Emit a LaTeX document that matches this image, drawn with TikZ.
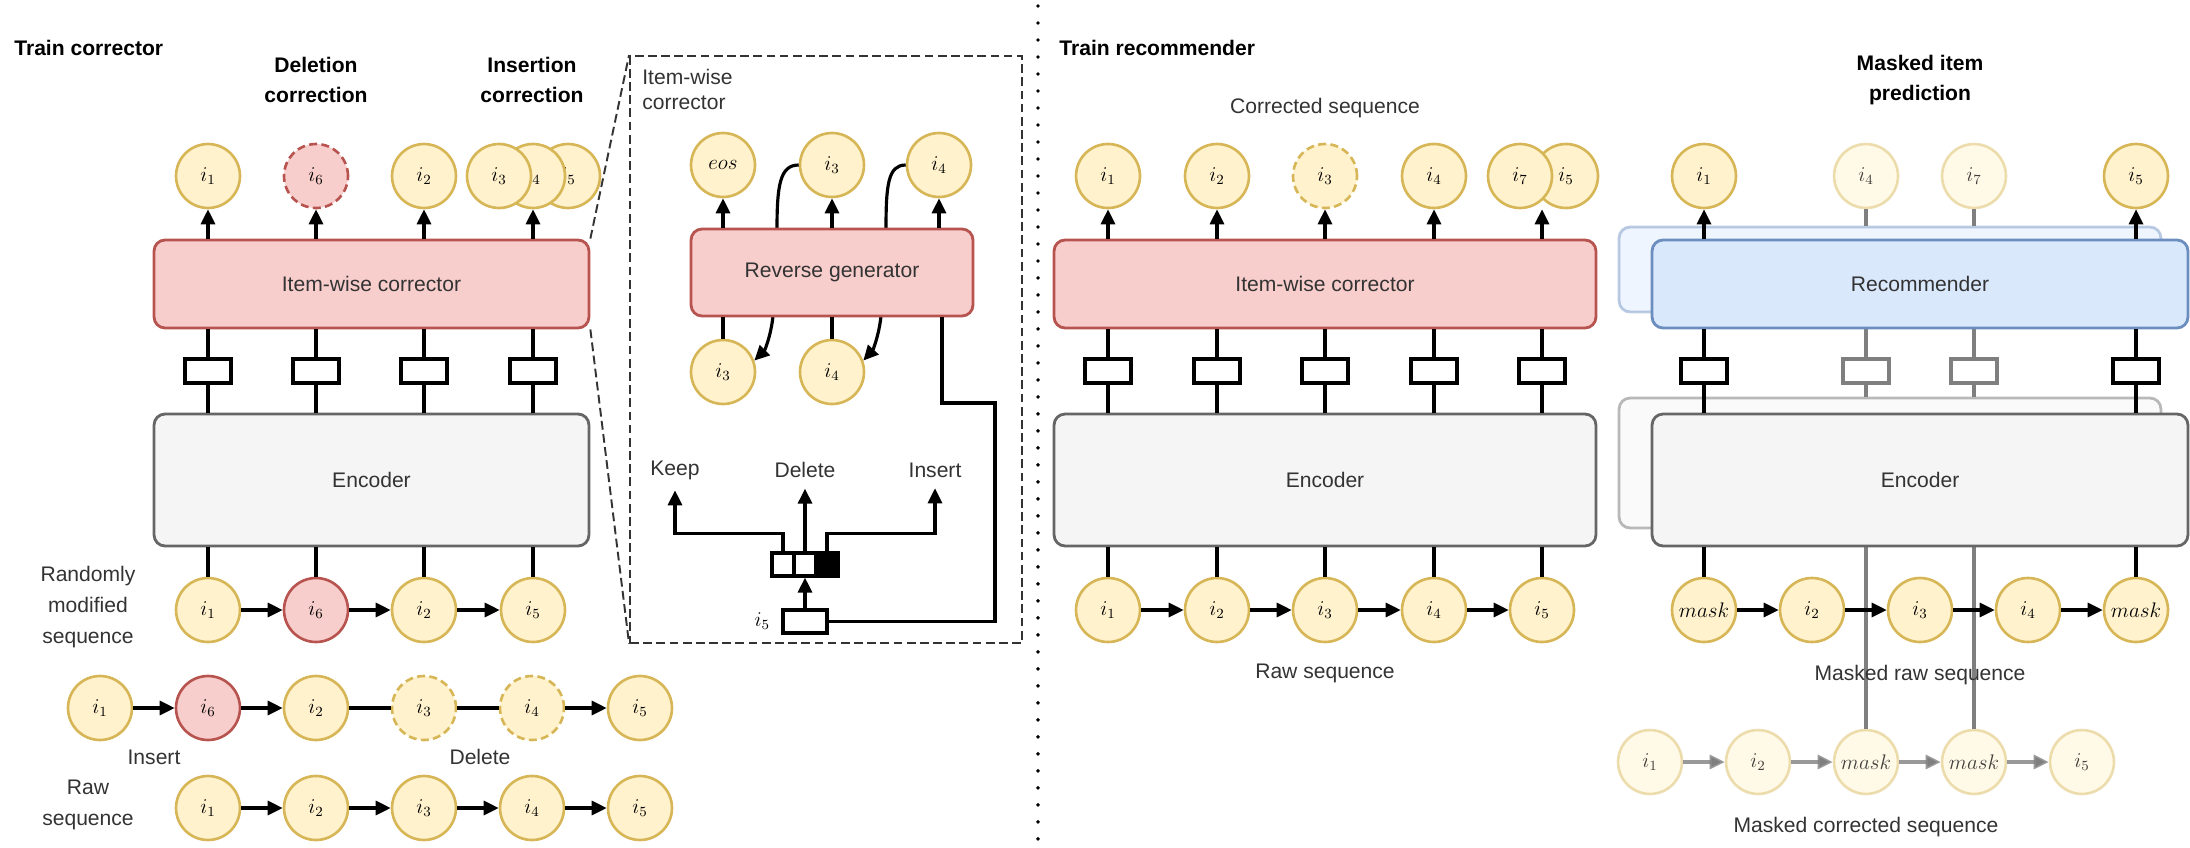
\documentclass[tikz,border=0pt]{standalone}
\usepackage{fontspec}
\setmainfont{Liberation Sans}
\usetikzlibrary{arrows.meta, positioning}

\definecolor{itemfill}{HTML}{FFF2CC}
\definecolor{itemline}{HTML}{D6B656}
\definecolor{redfill}{HTML}{F8CECC}
\definecolor{redline}{HTML}{B85450}
\definecolor{bluefill}{HTML}{DAE8FC}
\definecolor{blueline}{HTML}{6C8EBF}
\definecolor{encfill}{HTML}{F5F5F5}
\definecolor{encline}{HTML}{666666}
\definecolor{fadeline}{HTML}{7F7F7F}
\definecolor{txtgray}{HTML}{333333}

\begin{document}
\begin{tikzpicture}[
    x=0.02cm,
    y=-0.02cm,
    font=\fontsize{12}{17.5}\selectfont,
    item/.style={
        circle,
        draw=itemline,
        fill=itemfill,
        line width=1.5pt,
        minimum size=1.28cm,
        inner sep=0pt
    },
    added/.style={
        draw=redline,
        fill=redfill
    },
    ghost/.style={
        dash pattern=on 4.5pt off 2.5pt
    },
    faded/.style={
        draw opacity=0.45,
        fill opacity=0.45,
        text opacity=0.75
    },
    block/.style={
        rounded corners=0.22cm,
        line width=1.6pt,
        text=txtgray
    },
    corrbox/.style={
        block,
        draw=redline,
        fill=redfill
    },
    encbox/.style={
        block,
        draw=encline,
        fill=encfill
    },
    recbox/.style={
        block,
        draw=blueline,
        fill=bluefill
    },
    vec/.style={
        draw,
        fill=white,
        line width=1.8pt,
        minimum width=0.92cm,
        minimum height=0.48cm,
        inner sep=0pt
    },
    cell/.style={
        vec,
        minimum width=0.44cm,
        minimum height=0.46cm
    },
    link/.style={
        line width=1.8pt
    },
    arr/.style={
        link,
        -{Triangle[length=0.3cm, width=0.28cm]}
    },
    zoomline/.style={
        draw=txtgray,
        line width=1.1pt,
        dash pattern=on 5pt off 2.5pt
    },
    title/.style={
        font=\fontsize{12}{17.5}\selectfont\bfseries,
        align=center
    },
    caption/.style={
        text=txtgray,
        align=center
    }
]

\useasboundingbox (0,0) rectangle (2190,848);

% Titles
\node[title, anchor=west, inner sep=0pt] (tcorr) at (14,48) {Train corrector};
\node[title] (delcorr) at (316,80) {Deletion\\correction};
\node[title] (inscorr) at (532,80) {Insertion\\correction};

% Corrector and encoder
\node[corrbox, minimum width=8.7cm, minimum height=1.76cm] (corr) at (371.5,284) {Item-wise corrector};
\node[encbox, minimum width=8.7cm, minimum height=2.64cm] (enc) at (371.5,480) {Encoder};

% Corrected outputs
\node[item] (o1) at (208,176) {$i_1$};
\node[item, added, ghost] (o6) at (316,176) {$i_6$};
\node[item] (o2) at (424,176) {$i_2$};
\node[item] (o5) at (568,176) {$i_5$};
\node[item] (o4) at (533,176) {$i_4$};
\node[item] (o3) at (499,176) {$i_3$};

\foreach \c in {o1,o6,o2,o4}
    \draw[arr] (\c |- corr.north) -- (\c.south);

\foreach \x [count=\k] in {208,316,424,533} {
    \node[vec] (v\k) at (\x,371) {};
    \draw[link] (v\k.north) -- (v\k.north |- corr.south);
    \draw[link] (v\k.south) -- (v\k.south |- enc.north);
}

% Randomly modified sequence
\node[caption] (modlbl) at (88,607) {Randomly\\modified\\sequence};
\node[item] (m1) at (208,610) {$i_1$};
\node[item, added] (m6) at (316,610) {$i_6$};
\node[item] (m2) at (424,610) {$i_2$};
\node[item] (m5) at (533,610) {$i_5$};

\foreach \c in {m1,m6,m2,m5}
    \draw[link] (\c |- enc.south) -- (\c.north);
\draw[arr] (m1) -- (m6);
\draw[arr] (m6) -- (m2);
\draw[arr] (m2) -- (m5);

% Random edits
\node[item] (e1) at (100,708) {$i_1$};
\node[item, added] (e6) at (208,708) {$i_6$};
\node[item] (e2) at (316,708) {$i_2$};
\node[item, ghost] (e3) at (424,708) {$i_3$};
\node[item, ghost] (e4) at (532,708) {$i_4$};
\node[item] (e5) at (640,708) {$i_5$};
\draw[arr] (e1) -- (e6);
\draw[arr] (e6) -- (e2);
\draw[link] (e2) -- (e3);
\draw[link] (e3) -- (e4);
\draw[arr] (e4) -- (e5);
\node[caption] (inslbl) at (154,757) {Insert};
\node[caption] (dellbl) at (480,757) {Delete};

% Raw sequence
\node[caption] (rawlbl) at (88,805) {Raw\\sequence};
\foreach \x [count=\k] in {208,316,424,532,640}
    \node[item] (r\k) at (\x,808) {$i_\k$};
\foreach \a/\b in {1/2,2/3,3/4,4/5}
    \draw[arr] (r\a) -- (r\b);

% Zoomed view of the corrector
\node[zoomline, minimum width=7.84cm, minimum height=11.74cm] (zoom) at (826,349.5) {};
\draw[zoomline] (corr.north east) -- (zoom.north west);
\draw[zoomline] (corr.south east) -- (zoom.south west);
\node[caption, anchor=north west, align=left, inner sep=0pt,
    font=\fontsize{12}{14.2}\selectfont] (zlbl) at (642,69) {Item-wise\\corrector};

\node[item] (ze) at (723,165) {$eos$};
\node[item] (z3) at (832,165) {$i_3$};
\node[item] (z4) at (939,165) {$i_4$};
\node[item] (y3) at (723,372) {$i_3$};
\node[item] (y4) at (832,372) {$i_4$};

% Generated items fed back
\draw[arr] (z3.west) .. controls (780,165) and (777,185) .. (777,229)
    -- (773,316) .. controls (771,335) and (765,350) .. (y3.20);
\draw[arr] (z4.west) .. controls (888,165) and (886,185) .. (886,229)
    -- (881,316) .. controls (879,335) and (873,350) .. (y4.20);

\node[corrbox, minimum width=5.64cm, minimum height=1.74cm] (rg) at (832,272.5) {Reverse generator};
\coordinate (rgout) at ([xshift=2.2cm]rg.south);

\foreach \c in {ze,z3,z4}
    \draw[arr] (\c |- rg.north) -- (\c.south);
\foreach \c in {y3,y4}
    \draw[link] (\c.north) -- (\c |- rg.south);

% Edit operation
\node[cell] (k1) at (783,564.5) {};
\node[cell] (k2) at (805,564.5) {};
\node[cell, fill=black] (k3) at (827,564.5) {};
\node[cell, minimum width=0.88cm] (i5v) at (805,621.5) {};
\node[left=3pt of i5v] (i5lbl) {$i_5$};

\node[caption, inner sep=6pt] (keep) at (675,470) {Keep};
\node[caption, inner sep=6pt] (delete) at (805,470) {Delete};
\node[caption, inner sep=6pt] (insert) at (935,470) {Insert};

\draw[arr] (i5v.north) -- (k2.south);
\draw[arr] (k1.north) -- ++(0,-18) -| (keep.south);
\draw[arr] (k2.north) -- (delete.south);
\draw[arr] (k3.north) -- ++(0,-18) -| (insert.south);
\draw[link] (i5v.east) -| (995,403) -| (rgout);

% Separator
\draw[line width=2.2pt, line cap=round, dash pattern=on 0pt off 0.34cm] (1038,6) -- (1038,848);

% Train recommender
\node[title, anchor=west, inner sep=0pt] (trec) at (1059,48) {Train recommender};
\node[caption] (corrseq) at (1325,108) {Corrected sequence};

\node[corrbox, minimum width=10.84cm, minimum height=1.76cm] (corr2) at (1325,284) {Item-wise corrector};
\node[encbox, minimum width=10.84cm, minimum height=2.64cm] (enc2) at (1325,480) {Encoder};

\node[item] (c1) at (1108,176) {$i_1$};
\node[item] (c2) at (1217,176) {$i_2$};
\node[item, ghost] (c3) at (1325,176) {$i_3$};
\node[item] (c4) at (1434,176) {$i_4$};
\node[item] (c5) at (1566,176) {$i_5$};
\node[item] (c7) at (1520,176) {$i_7$};

\foreach \x [count=\k] in {1108,1217,1325,1434,1542} {
    \node[vec] (w\k) at (\x,371) {};
    \draw[link] (w\k.north) -- (w\k.north |- corr2.south);
    \draw[link] (w\k.south) -- (w\k.south |- enc2.north);
    \draw[arr] (w\k |- corr2.north) -- (w\k |- c1.south);
    \node[item] (q\k) at (\x,610) {$i_\k$};
    \draw[link] (q\k |- enc2.south) -- (q\k.north);
}
\foreach \a/\b in {1/2,2/3,3/4,4/5}
    \draw[arr] (q\a) -- (q\b);
\node[caption] (rawseq) at (1325,673) {Raw sequence};

% Masked item prediction
\node[title] (mip) at (1920,80) {Masked item\\prediction};

\node[recbox, faded, minimum width=10.84cm, minimum height=1.7cm] (brec) at (1890,269.5) {};
\node[encbox, faded, minimum width=10.84cm, minimum height=2.6cm] (benc) at (1890,463) {};

\node[item] (p1) at (1704,176) {$i_1$};
\node[item, faded] (p4) at (1866,176) {$i_4$};
\node[item, faded] (p7) at (1974,176) {$i_7$};
\node[item] (p5) at (2136,176) {$i_5$};

% Masked corrected sequence
\node[item, faded] (f1) at (1650,762) {$i_1$};
\node[item, faded] (f2) at (1758,762) {$i_2$};
\node[item, faded] (f3) at (1866,762) {$mask$};
\node[item, faded] (f4) at (1974,762) {$mask$};
\node[item, faded] (f5) at (2082,762) {$i_5$};
\foreach \a/\b in {1/2,2/3,3/4,4/5}
    \draw[arr, draw=fadeline, draw opacity=0.8] (f\a) -- (f\b);
\node[caption] (mcseq) at (1866,827) {Masked corrected sequence};

\foreach \c/\k in {p4/1,p7/2} {
    \node[vec, draw=fadeline] (g\k) at (\c |- v1) {};
    \draw[link, draw=fadeline] (\c.south) -- (\c |- brec.north);
    \draw[link, draw=fadeline] (g\k.north) -- (g\k.north |- brec.south);
    \draw[link, draw=fadeline] (g\k.south) -- (g\k.south |- benc.north);
}
\foreach \c in {f3,f4}
    \draw[link, draw=fadeline] (\c.north) -- (\c |- benc.south);

\node[recbox, minimum width=10.72cm, minimum height=1.76cm] (frec) at (1920,284) {Recommender};
\node[encbox, minimum width=10.72cm, minimum height=2.64cm] (fenc) at (1920,480) {Encoder};

\foreach \c/\k in {p1/1,p5/2} {
    \node[vec] (u\k) at (\c |- v1) {};
    \draw[arr] (\c |- frec.north) -- (\c.south);
    \draw[link] (u\k.north) -- (u\k.north |- frec.south);
    \draw[link] (u\k.south) -- (u\k.south |- fenc.north);
}

% Masked raw sequence
\node[item] (n1) at (1704,610) {$mask$};
\node[item] (n2) at (1812,610) {$i_2$};
\node[item] (n3) at (1920,610) {$i_3$};
\node[item] (n4) at (2028,610) {$i_4$};
\node[item] (n5) at (2136,610) {$mask$};
\foreach \a/\b in {1/2,2/3,3/4,4/5}
    \draw[arr] (n\a) -- (n\b);
\foreach \c in {n1,n5}
    \draw[link] (\c |- fenc.south) -- (\c.north);
\node[caption] (mrseq) at (1920,675) {Masked raw sequence};

\end{tikzpicture}
\end{document}
